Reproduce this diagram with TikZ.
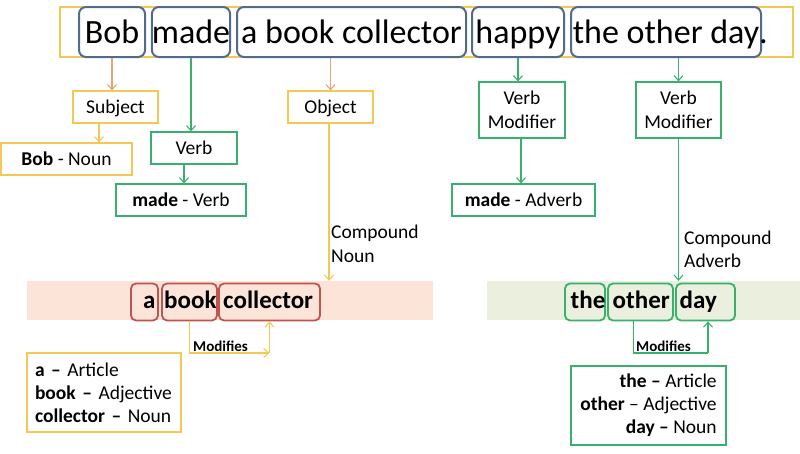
\documentclass[tikz,border=0pt]{standalone}
\usepackage{fontspec}
\setmainfont{Carlito}
\usetikzlibrary{arrows.meta}
\definecolor{titleblue}{RGB}{82,106,140}
\definecolor{yellowc}{RGB}{244,200,84}
\definecolor{orangec}{RGB}{234,162,112}
\definecolor{greenc}{RGB}{58,176,110}
\definecolor{redc}{RGB}{192,84,80}
\definecolor{pinkband}{RGB}{252,229,216}
\definecolor{greenband}{RGB}{234,239,222}
\begin{document}
\begin{tikzpicture}[x=1pt,y=-1pt,
  wbox/.style={draw=titleblue, line width=2pt, rounded corners=7pt, minimum height=50, inner xsep=0, inner ysep=0, text height=36pt, text depth=14pt, font=\fontsize{34}{40}\selectfont},
  lbox/.style={line width=1.2pt, inner sep=0, font=\fontsize{19.5}{23.5}\selectfont, align=center, minimum height=32},
  sline/.style={text height=14pt, text depth=2pt},
  bbox/.style={line width=1.8pt, rounded corners=5pt, minimum height=37, inner sep=0},
  btext/.style={anchor=base west, inner sep=0, font=\fontsize{25}{30}\selectfont\bfseries},
  modtext/.style={anchor=base west, inner sep=0, font=\fontsize{15}{18}\selectfont\bfseries},
  arr/.style={-{Straight Barb[length=5pt,width=9pt]}, line width=1.1pt},
  ln/.style={line width=1.1pt}
]
\useasboundingbox (0,0) rectangle (800,453);

% title bar
\node[draw=yellowc, line width=1.5pt, minimum width=733, minimum height=50, inner sep=0] (bar) at (426.5,32) {};
\node[wbox, minimum width=66] (bob) at (112,32) {Bob};
\node[wbox, minimum width=78] (made) at (191,32) {made};
\node[wbox, minimum width=229] (abc) at (351.5,32) {a book collector};
\node[wbox, minimum width=92] (happy) at (518,32) {happy};
\node[wbox, minimum width=190] (tod) at (666,32) {the other day};
\node[anchor=base west, inner sep=0, font=\fontsize{34}{40}\selectfont] (dot) at (759,43) {.};

% label boxes
\node[lbox, sline, draw=yellowc, minimum width=85] (subject) at (115.5,107) {Subject};
\node[lbox, sline, draw=yellowc, minimum width=131] (bobnoun) at (66.5,159) {\textbf{Bob} - Noun};
\node[lbox, sline, draw=greenc, minimum width=86] (verb) at (194,148) {Verb};
\node[lbox, sline, draw=greenc, minimum width=130] (madeverb) at (181,200) {\textbf{made} - Verb};
\node[lbox, sline, draw=yellowc, minimum width=85] (object) at (330.5,107) {Object};
\node[lbox, draw=greenc, minimum width=86, minimum height=56] (vm1) at (522,110) {Verb\\Modifier};
\node[lbox, sline, draw=greenc, minimum width=143] (madeadv) at (523.5,200) {\textbf{made} - Adverb};
\node[lbox, draw=greenc, minimum width=85, minimum height=56] (vm2) at (678.5,110) {Verb\\Modifier};

% arrows from title
\draw[arr, orangec] (bob.south) -- (bob.south |- subject.north);
\draw[arr, yellowc] ([xshift=-16.5pt]subject.south) -- ([xshift=-16.5pt]subject.south |- bobnoun.north);
\draw[arr, greenc] (made.south) -- (made.south |- verb.north);
\draw[arr, greenc] ([xshift=-10pt]verb.south) -- ([xshift=-10pt]verb.south |- madeverb.north);
\draw[arr, orangec] (object.north |- abc.south) -- (object.north);
\draw[arr, greenc] (happy.south) -- (happy.south |- vm1.north);
\draw[arr, greenc] ([xshift=-1pt]vm1.south) -- ([xshift=-1pt]vm1.south |- madeadv.north);
\draw[arr, greenc] (vm2.north |- tod.south) -- (vm2.north);

% bands
\node[fill=pinkband, minimum width=406, minimum height=39, inner sep=0] (band1) at (230,300.5) {};
\node[fill=greenband, minimum width=313, minimum height=39, inner sep=0] (band2) at (643.5,300.5) {};

\draw[arr, yellowc] ([xshift=-1.5pt]object.south) -- ([xshift=-1.5pt]object.south |- band1.north);
\draw[arr, greenc] (vm2.south) -- (vm2.south |- band2.north);

\node[anchor=north west, align=left, inner sep=0, font=\fontsize{19.5}{24}\selectfont] (cnoun) at (331,225) {Compound\\Noun};
\node[anchor=north west, align=left, inner sep=0, font=\fontsize{19.5}{23}\selectfont] (cadv) at (684,231) {Compound\\Adverb};

% band words
\node[bbox, draw=redc, minimum width=27] (wa) at (144.5,302) {};
\node[bbox, draw=redc, minimum width=55] (wbook) at (189.5,302) {};
\node[bbox, draw=redc, minimum width=101] (wcoll) at (269.5,302) {};
\node[btext] (ta) at (143,308) {a};
\node[btext] (tbook) at (164,308) {book};
\node[btext] (tcoll) at (223,308) {collector};

\node[bbox, draw=greenc, minimum width=40] (wthe) at (585,302) {};
\node[bbox, draw=greenc, minimum width=65] (wother) at (640.5,302) {};
\node[bbox, draw=greenc, minimum width=59] (wday) at (705.5,302) {};
\node[btext] (tthe) at (570.5,308) {the};
\node[btext] (tother) at (612.5,308) {other};
\node[btext] (tday) at (679.5,308) {day};

% modifies connectors
\coordinate (m1) at (269.5,353);
\draw[arr, yellowc] (wbook.south) |- (m1);
\draw[arr, yellowc] (m1) -- (wcoll.south);
\node[modtext] (mod1) at (193,351) {Modifies};

\coordinate (m2) at (708,353);
\draw[ln, greenc] ([xshift=-7pt]wother.south) |- (m2);
\draw[arr, greenc] (m2) -- (m2 |- wday.south);
\node[modtext] (mod2) at (636,351) {Modifies};

% legends
\node[draw=yellowc, line width=1.2pt, minimum width=154, minimum height=79, text width=138pt, inner xsep=8pt, inner ysep=0, align=left, font=\fontsize{19.5}{23}\selectfont] (leg1) at (104,392.5) {\textbf{a –} Article\\\textbf{book –} Adjective\\\textbf{collector –} Noun};
\node[draw=greenc, line width=1.2pt, minimum width=155, minimum height=79, inner xsep=0, inner ysep=0, align=right, font=\fontsize{19.5}{23}\selectfont] (leg2) at (648.5,405.5) {\textbf{the –} Article\\\textbf{other} – Adjective\\\textbf{day –} Noun};
\end{tikzpicture}
\end{document}
